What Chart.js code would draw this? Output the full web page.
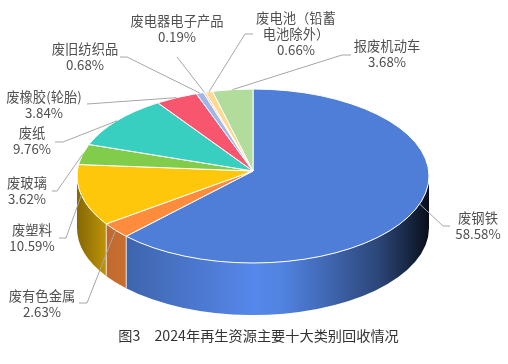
<!DOCTYPE html>
<html>
<head>
<meta charset="utf-8">
<style>
  html, body { margin: 0; padding: 0; background: #fff; }
  #wrap { position: relative; width: 508px; height: 364px; }
</style>
<script src="https://cdn.jsdelivr.net/npm/chart.js@4/dist/chart.umd.js"></script>
</head>
<body>
<div id="wrap"><canvas id="chart_recycling"></canvas></div>
<script>
// data
const categories = ['废钢铁', '废有色金属', '废塑料', '废玻璃', '废纸', '废橡胶(轮胎)', '废旧纺织品', '废电器电子产品', '废电池（铅蓄\n电池除外）', '报废机动车'];
const shares = [58.58, 2.63, 10.59, 3.62, 9.76, 3.84, 0.68, 0.19, 0.66, 3.68];
const caption = '图3　2024年再生资源主要十大类别回收情况';

// look of the slices and their labels
const sliceColors = ['#4f7ed9', '#ff8b3d', '#ffc709', '#82cc4c', '#38cfc0', '#f8566f', '#a0b5e8', '#ffb9a8', '#ffd88f', '#b1dc9b'];
const labelCenters = [[478, 218], [42, 296], [32, 230], [27, 183], [32, 133], [44, 97], [85, 49], [177, 21], [296, 18], [387, 46]];
const leaderBends = [[[443, 226], [450, 226]], [[87, 303], [79, 303]], [[66, 238], [59, 238]], [[57, 191], [52, 191]], [[63, 142], [55, 142]], [[87, 104]], [[127, 57], [120, 57]], [[177, 57]], [[245, 34], [253, 34]], [[342, 55], [351, 55]]];

const TILT = 87 / 176;      // ellipse height / width
const DEPTH = 52;           // wall height
const LIFT = 5 / 87;        // perspective: the tip sits above the ellipse centre
const wallLight = [[0, .52], [.09, .76], [.15, .8], [.5, 1.08], [.58, 1.04], [.72, .8], [.86, .55], [.95, .28], [1, .12]];

function shade(hex, f) {
  const n = parseInt(hex.slice(1), 16);
  const c = [n >> 16, (n >> 8) & 255, n & 255].map(v => Math.min(255, Math.round(v * f)));
  return 'rgb(' + c.join(',') + ')';
}

// pie angle -> ellipse angle, near side of the pie gets stretched by perspective
function rimAngle(a) {
  const d = 1 - LIFT * Math.sin(a);
  let r = Math.atan2((Math.sin(a) - LIFT) / d, Math.cos(a) * Math.sqrt(1 - LIFT * LIFT) / d);
  while (r - a > Math.PI) r -= 2 * Math.PI;
  while (r - a < -Math.PI) r += 2 * Math.PI;
  return r;
}

class TiltedArc extends Chart.ArcElement {
  draw(ctx) {
    const {x, y, startAngle, endAngle, outerRadius: R} = this.getProps(['x', 'y', 'startAngle', 'endAngle', 'outerRadius']);
    const ry = R * TILT;
    const fill = this.options.backgroundColor;
    const s = rimAngle(startAngle), e = rimAngle(endAngle);

    // side wall, only the part that faces the viewer
    const a0 = Math.max(s, 0), a1 = Math.min(e, Math.PI);
    if (a1 > a0) {
      const g = ctx.createLinearGradient(x - R, 0, x + R, 0);
      wallLight.forEach(st => g.addColorStop(st[0], shade(fill, st[1])));
      ctx.beginPath();
      ctx.ellipse(x, y, R, ry, 0, a0, a1);
      ctx.ellipse(x, y + DEPTH, R, ry, 0, a1, a0, true);
      ctx.closePath();
      ctx.fillStyle = g;
      ctx.fill();
      ctx.strokeStyle = 'rgba(255,255,255,.6)';
      ctx.lineWidth = 1;
      [a0, a1].forEach(a => {
        if (a > 0.01 && a < Math.PI - 0.01) {
          const px = x + R * Math.cos(a), py = y + ry * Math.sin(a);
          ctx.beginPath();
          ctx.moveTo(px, py);
          ctx.lineTo(px, py + DEPTH);
          ctx.stroke();
        }
      });
    }

    // top face
    ctx.beginPath();
    ctx.moveTo(x, y - LIFT * ry);
    ctx.ellipse(x, y, R, ry, 0, s, e);
    ctx.closePath();
    ctx.fillStyle = fill;
    ctx.fill();
    ctx.strokeStyle = this.options.borderColor;
    ctx.lineWidth = this.options.borderWidth;
    ctx.lineJoin = 'round';
    ctx.stroke();
  }
}
TiltedArc.id = 'tiltedArc';
TiltedArc.defaults = Chart.ArcElement.defaults;

class TiltedPie extends Chart.PieController {}
TiltedPie.id = 'tiltedPie';
TiltedPie.defaults = {dataElementType: 'tiltedArc'};
TiltedPie.overrides = Chart.PieController.overrides;

Chart.register(TiltedArc, TiltedPie);

const sliceLabels = {
  id: 'sliceLabels',
  afterDatasetsDraw(chart) {
    const ctx = chart.ctx;
    const arcs = chart.getDatasetMeta(0).data;
    ctx.save();
    ctx.textAlign = 'center';
    ctx.textBaseline = 'middle';
    ctx.font = '13.3px "Noto Sans CJK SC"';
    arcs.forEach((arc, i) => {
      // leader line starts on the rim, at the middle of the slice
      const mid = rimAngle((arc.startAngle + arc.endAngle) / 2);
      ctx.beginPath();
      ctx.moveTo(arc.x + arc.outerRadius * Math.cos(mid), arc.y + arc.outerRadius * TILT * Math.sin(mid));
      leaderBends[i].forEach(p => ctx.lineTo(p[0], p[1]));
      ctx.strokeStyle = '#a6a6a6';
      ctx.lineWidth = 1;
      ctx.stroke();

      const lines = categories[i].split('\n').concat(shares[i].toFixed(2) + '%');
      ctx.fillStyle = '#505050';
      lines.forEach((t, k) => ctx.fillText(t, labelCenters[i][0], labelCenters[i][1] + k * 16));
    });
    ctx.font = '14.2px "Noto Sans CJK SC"';
    ctx.fillStyle = '#333';
    ctx.fillText(caption, 258.5, 336);
    ctx.restore();
  }
};

var chart_recycling = new Chart(document.getElementById('chart_recycling'), {
  type: 'tiltedPie',
  data: {
    labels: categories,
    datasets: [{
      data: shares,
      backgroundColor: sliceColors,
      borderColor: '#fff',
      borderWidth: 1,
      radius: 176
    }]
  },
  options: {
    animation: false,
    responsive: true,
    maintainAspectRatio: false,
    layout: {padding: {top: 0, left: 0, right: 2, bottom: 12}},
    plugins: {legend: {display: false}, tooltip: {enabled: false}}
  },
  plugins: [sliceLabels]
});
</script>
</body>
</html>
